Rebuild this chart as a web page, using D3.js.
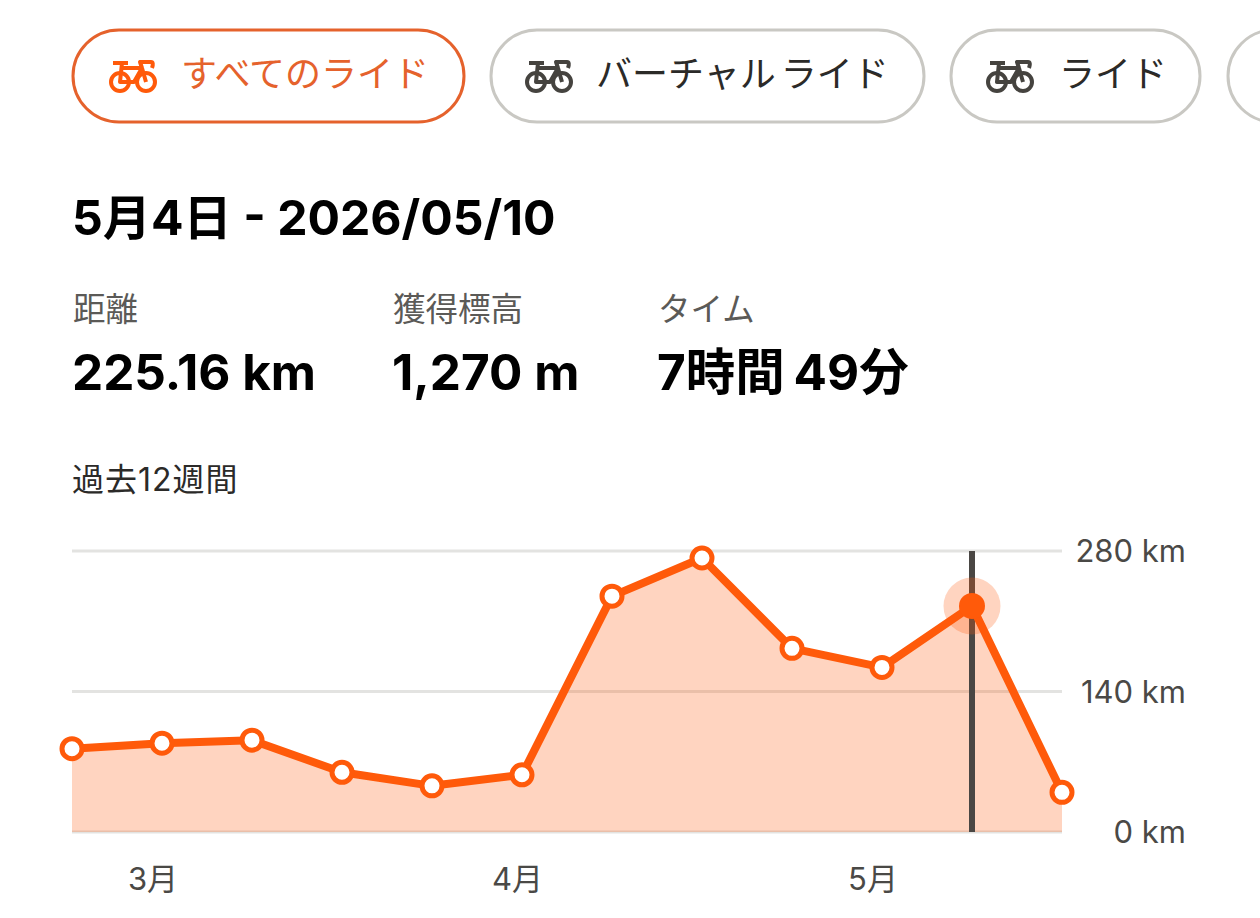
<!DOCTYPE html>
<html><head><meta charset="utf-8">
<script src="https://cdn.jsdelivr.net/npm/d3@7"></script>
<style>html,body{margin:0;padding:0;background:#fff;overflow:hidden}svg{display:block}
text{font-family:Inter,"Noto Sans CJK JP","Noto Sans",sans-serif}</style></head>
<body><svg id="c" width="1260" height="918"></svg>
<script>
const weekIndex=[0,1,2,3,4,5,6,7,8,9,10,11];
const distanceKm=[83,88.5,91.5,59.5,46,57,235,273,183,164,225.16,39.5];
const selectedWeek=10;
const yTicks=[0,140,280];
const yTickLabels=["0 km","140 km","280 km"];
const monthLabels=["3月","4月","5月"];
const monthPositions=[0.9,4.95,8.9];
const chips=[
 {label:"すべてのライド",x:73,w:391,active:true,iconX:109,textX:181},
 {label:"バーチャル ライド",x:491,w:433,active:false,iconX:525,textX:596},
 {label:"ライド",x:951,w:249,active:false,iconX:986,textX:1059},
 {label:"",x:1228,w:200,active:false}
];
const stats=[
 {label:"距離",value:"225.16 km",x:73},
 {label:"獲得標高",value:"1,270 m",x:393},
 {label:"タイム",value:"7時間 49分",x:658}
];
const orange="#ff5a0a",chipOrange="#e5622c",grid="#e3e3e1",dark="#4a4744";
const svg=d3.select("#c");
function bike(g,color){
 g.attr("fill","none").attr("stroke",color).attr("stroke-width",4).attr("stroke-linejoin","round").attr("stroke-linecap","butt");
 g.append("circle").attr("cx",11).attr("cy",20).attr("r",9);
 g.append("circle").attr("cx",37).attr("cy",20).attr("r",9);
 g.append("path").attr("d","M4 1H19M13 1L11 20H25L33 6L37 20M14 6H33M33 6L31 0H42Q45 0 43 6");
}
const chipG=svg.selectAll("g.chip").data(chips).join("g").attr("class","chip");
chipG.append("rect").attr("x",d=>d.x).attr("y",30).attr("width",d=>d.w).attr("height",92).attr("rx",46)
 .attr("fill","#fff").attr("stroke",d=>d.active?chipOrange:"#c9c8c3").attr("stroke-width",3);
chipG.filter(d=>d.label).append("text").attr("x",d=>d.textX).attr("y",87).attr("font-size",36).attr("word-spacing",-5)
 .attr("fill",d=>d.active?chipOrange:"#2b2a28").text(d=>d.label);
chipG.filter(d=>d.label).each(function(d){
 bike(d3.select(this).append("g").attr("transform",`translate(${d.iconX},62)`),d.active?orange:"#45433f");
});
svg.append("text").attr("x",72).attr("y",235).attr("font-size",48.2).attr("font-weight",700).attr("fill","#000").text("5月4日 - 2026/05/10");
svg.selectAll("text.sl").data(stats).join("text").attr("class","sl").attr("x",d=>d.x).attr("y",321).attr("font-size",32.5).attr("fill","#5b5a57").text(d=>d.label);
svg.selectAll("text.sv").data(stats).join("text").attr("class","sv").attr("x",d=>d.x-1).attr("y",390).attr("font-size",49.5).attr("font-weight",700).attr("word-spacing",(d,i)=>i===2?-3:0).attr("fill","#000").text(d=>d.value);
svg.append("text").attr("x",72).attr("y",491).attr("font-size",32).attr("letter-spacing",1).attr("fill","#2b2a28").text("過去12週間");

const x=d3.scaleLinear().domain([0,11]).range([72,1062]);
const y=d3.scaleLinear().domain([0,280]).range([832,551]);
const data=weekIndex.map((w,i)=>({w,v:distanceKm[i]}));
const gridG=svg.append("g");
gridG.selectAll("line").data(yTicks).join("line").attr("x1",x(0)).attr("x2",x(11))
 .attr("y1",d=>y(d)).attr("y2",d=>y(d)).attr("stroke",grid).attr("stroke-width",3);
svg.append("path").datum(data).attr("fill",orange).attr("fill-opacity",.26)
 .attr("d",d3.area().x(d=>x(d.w)).y0(y(0)).y1(d=>y(d.v)));
svg.append("line").attr("x1",x(selectedWeek)).attr("x2",x(selectedWeek)).attr("y1",y(280)).attr("y2",y(0)).attr("stroke",dark).attr("stroke-width",6);
svg.append("path").datum(data).attr("fill","none").attr("stroke",orange).attr("stroke-width",8).attr("stroke-linejoin","round")
 .attr("d",d3.line().x(d=>x(d.w)).y(d=>y(d.v)));
svg.append("circle").attr("cx",x(selectedWeek)).attr("cy",y(distanceKm[selectedWeek])).attr("r",28.5).attr("fill",orange).attr("fill-opacity",.26);
svg.selectAll("circle.pt").data(data.filter(d=>d.w!==selectedWeek)).join("circle").attr("class","pt")
 .attr("cx",d=>x(d.w)).attr("cy",d=>y(d.v)).attr("r",10).attr("fill","#fff").attr("stroke",orange).attr("stroke-width",5);
svg.append("circle").attr("cx",x(selectedWeek)).attr("cy",y(distanceKm[selectedWeek])).attr("r",13).attr("fill",orange);
svg.selectAll("text.yt").data(yTicks).join("text").attr("class","yt").attr("x",1186).attr("y",d=>y(d)).attr("dy","0.36em")
 .attr("text-anchor","end").attr("font-size",31).attr("fill","#4a4946").text((d,i)=>yTickLabels[i]);
svg.selectAll("text.mt").data(monthLabels).join("text").attr("class","mt").attr("x",(d,i)=>x(monthPositions[i])).attr("y",890)
 .attr("text-anchor","middle").attr("font-size",31).attr("fill","#4a4946").text(d=>d);
</script></body></html>
